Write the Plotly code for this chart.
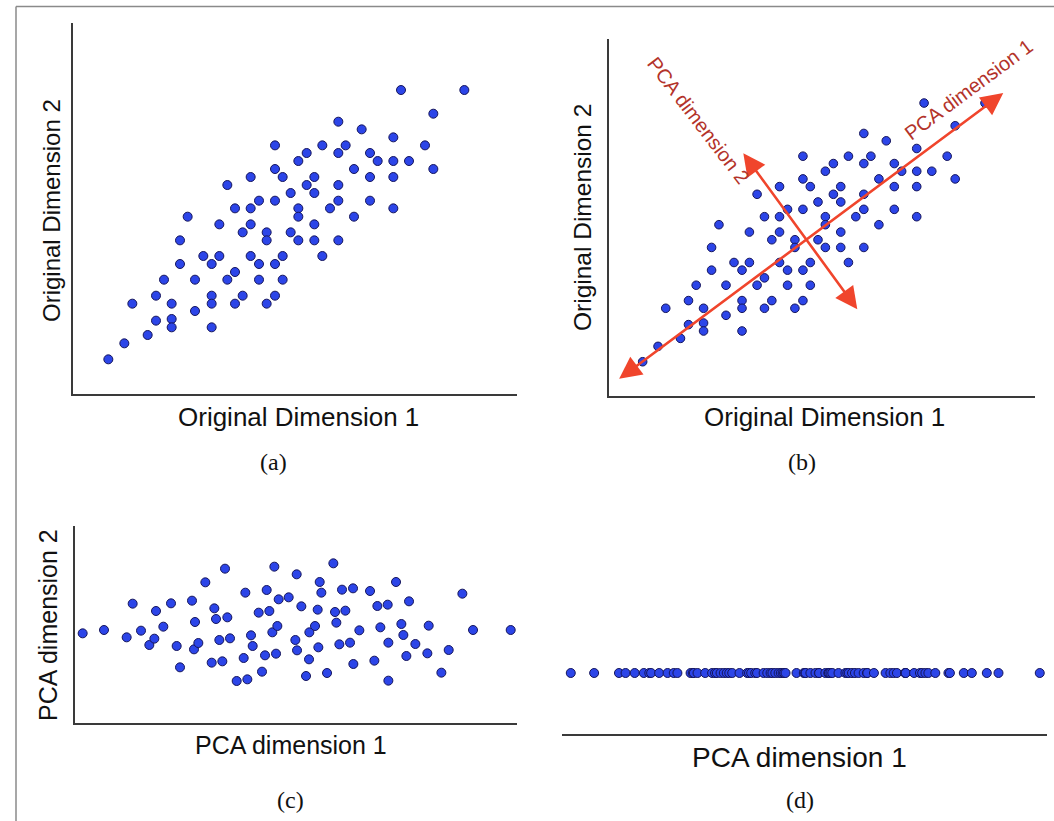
import plotly.graph_objects as go

W, H = 1054, 821

# ---- Data: original 2-D cloud (panels a and b) ----
orig_dim1 = [10.23, 12.13, 11.20, 8.35, 9.05, 10.00, 6.45, 7.87, 8.57, 10.95,
             7.40, 8.35, 9.30, 7.15, 9.53, 10.00, 10.47, 6.45, 8.82, 11.20,
             5.72, 6.68, 7.63, 9.30, 10.00, 5.02, 7.40, 8.35, 6.92, 7.63,
             5.97, 6.45, 8.35, 9.30, 5.25, 5.72, 7.15, 8.10, 10.00, 3.83,
             7.15, 8.82, 4.78, 5.72, 7.63, 5.48, 6.20, 6.92, 3.60, 6.20,
             7.15, 7.63, 8.35, 4.30, 4.78, 5.72, 6.68, 7.87, 3.60, 4.55,
             5.97, 6.45, 5.25, 3.12, 4.05, 5.02, 5.97, 6.68, 2.88, 4.55,
             5.48, 6.45, 2.17, 3.35, 4.55, 5.25, 6.20, 4.05, 2.88, 3.35,
             3.35, 4.55, 2.63, 1.93, 1.45]
orig_dim2 = [9.40, 9.40, 8.69, 8.45, 8.22, 7.98, 7.74, 7.74, 7.74, 7.74,
             7.51, 7.51, 7.51, 7.27, 7.27, 7.27, 7.27, 7.03, 7.03, 7.03,
             6.79, 6.79, 6.79, 6.79, 6.79, 6.55, 6.55, 6.55, 6.31, 6.31,
             6.08, 6.08, 6.08, 6.08, 5.85, 5.85, 5.85, 5.85, 5.85, 5.60,
             5.60, 5.60, 5.37, 5.37, 5.37, 5.13, 5.13, 5.13, 4.89, 4.89,
             4.89, 4.89, 4.89, 4.42, 4.42, 4.42, 4.42, 4.42, 4.18, 4.18,
             4.18, 4.18, 3.94, 3.71, 3.71, 3.71, 3.71, 3.71, 3.23, 3.23,
             3.23, 3.23, 2.99, 2.99, 2.99, 2.99, 2.99, 2.77, 2.48, 2.53,
             2.28, 2.28, 2.05, 1.80, 1.32]

# ---- Data: PCA-rotated cloud (panels c and d) ----
pca_dim1 = [0.68, 1.32, 2.00, 2.18, 2.43, 2.68, 2.83, 2.88, 3.10, 3.33,
            3.50, 3.60, 3.96, 4.02, 4.05, 4.15, 4.36, 4.55, 4.63, 4.68,
            4.78, 4.87, 4.95, 5.02, 5.10, 5.30, 5.51, 5.56, 5.62, 5.73,
            5.78, 5.96, 6.06, 6.15, 6.20, 6.28, 6.37, 6.43, 6.48, 6.52,
            6.56, 6.86, 7.06, 7.10, 7.11, 7.24, 7.38, 7.47, 7.48, 7.65,
            7.73, 7.75, 7.79, 7.84, 8.01, 8.20, 8.25, 8.29, 8.38, 8.46,
            8.56, 8.70, 8.79, 8.80, 8.98, 9.30, 9.43, 9.52, 9.61, 9.83,
            9.85, 9.85, 10.08, 10.24, 10.30, 10.39, 10.47, 10.66, 11.02, 11.06,
            11.44, 11.66, 12.07, 12.39, 13.52]
pca_dim2 = [3.20, 3.30, 3.08, 4.09, 3.28, 2.85, 3.04, 3.87, 3.40, 4.10,
            2.82, 2.18, 4.18, 2.72, 3.54, 2.91, 4.73, 2.32, 3.95, 3.63,
            3.00, 2.36, 5.14, 3.68, 3.05, 1.77, 2.46, 4.42, 1.82, 3.14,
            2.82, 3.82, 2.05, 2.54, 4.50, 3.87, 3.23, 5.20, 2.59, 3.42,
            4.22, 4.28, 3.00, 4.97, 2.69, 4.01, 1.92, 2.42, 3.23, 3.42,
            3.91, 2.78, 4.74, 4.42, 2.01, 5.30, 3.84, 3.52, 2.87, 4.51,
            3.88, 2.92, 4.55, 2.28, 3.29, 4.47, 2.38, 4.02, 3.38, 4.06,
            2.92, 1.78, 4.74, 3.48, 3.15, 2.52, 4.16, 2.88, 2.60, 3.43,
            2.02, 2.70, 4.39, 3.30, 3.30]
pca_projection = [0.0] * len(pca_dim1)

# PCA direction arrows in panel (b), original-dimension units
pc1_start, pc1_end = (0.67, 0.75), (12.70, 9.71)
pc2_start, pc2_end = (8.18, 2.91), (4.59, 7.83)

# ---- Styling ----
DOT = "#2c45e8"
DOT_EDGE = "#15155c"
AXIS = "#3a3a3a"
ARROW = "#f0452c"
ARROW_TEXT = "#b3332a"
SANS = "Liberation Sans, Arial, Helvetica, sans-serif"
SERIF = "Liberation Serif, Times New Roman, serif"


def fx(p):
    return p / W


def fy(p):
    return 1 - p / H


marker = dict(size=9, color=DOT, line=dict(color=DOT_EDGE, width=1))

fig = go.Figure()
fig.add_trace(go.Scatter(x=orig_dim1, y=orig_dim2, mode="markers", marker=marker,
                         xaxis="x", yaxis="y", hoverinfo="skip"))
fig.add_trace(go.Scatter(x=orig_dim1, y=orig_dim2, mode="markers",
                         marker=dict(marker, size=8.6),
                         xaxis="x2", yaxis="y2", hoverinfo="skip"))
fig.add_trace(go.Scatter(x=pca_dim1, y=pca_dim2, mode="markers", marker=marker,
                         xaxis="x3", yaxis="y3", hoverinfo="skip"))
fig.add_trace(go.Scatter(x=pca_dim1, y=pca_projection, mode="markers", marker=marker,
                         xaxis="x4", yaxis="y4", hoverinfo="skip"))

ax_common = dict(showline=True, linecolor=AXIS, linewidth=2, showticklabels=False,
                 showgrid=False, zeroline=False, ticks="", fixedrange=True)

fig.update_layout(
    width=W, height=H,
    margin=dict(l=0, r=0, t=0, b=0),
    paper_bgcolor="white", plot_bgcolor="rgba(0,0,0,0)",
    showlegend=False,
    xaxis=dict(ax_common, domain=[fx(73), fx(517)], range=[0.39, 13.71], anchor="y"),
    yaxis=dict(ax_common, domain=[fy(394), fy(22.7)], range=[0.28, 11.42], anchor="x"),
    xaxis2=dict(ax_common, domain=[fx(609), fx(1035)], range=[0.40, 13.69], anchor="y2"),
    yaxis2=dict(ax_common, domain=[fy(396), fy(39)], range=[0.25, 11.40], anchor="x2"),
    xaxis3=dict(ax_common, domain=[fx(75), fx(516.7)], range=[0.45, 13.70], anchor="y3"),
    yaxis3=dict(ax_common, domain=[fy(723), fy(526)], range=[0.51, 6.42], anchor="x3"),
    xaxis4=dict(ax_common, domain=[fx(562), fx(1046.7)], range=[0.44, 13.71], anchor="y4"),
    yaxis4=dict(ax_common, domain=[fy(734), fy(612)], range=[-1, 1], anchor="x4",
                visible=False),
)

# outer frame (top and left edges visible)
fig.add_shape(type="line", xref="paper", yref="paper", x0=fx(16), x1=1.0,
              y0=fy(6.5), y1=fy(6.5), line=dict(color="#8a8a8a", width=1.5))
fig.add_shape(type="line", xref="paper", yref="paper", x0=fx(16), x1=fx(16),
              y0=fy(6.5), y1=0.0, line=dict(color="#8a8a8a", width=1.5))

# PCA arrows (double-headed)
for (x0, y0), (x1, y1) in [(pc1_start, pc1_end), (pc2_start, pc2_end)]:
    fig.add_annotation(x=x1, y=y1, ax=x0, ay=y0, xref="x2", yref="y2",
                       axref="x2", ayref="y2", text="", showarrow=True,
                       arrowside="end+start", arrowhead=2, startarrowhead=2,
                       arrowsize=1.7, startarrowsize=1.7, arrowwidth=2.6,
                       arrowcolor=ARROW, standoff=0, startstandoff=0)

fig.add_annotation(x=11.60, y=9.81, xref="x2", yref="y2", text="PCA dimension 1",
                   showarrow=False, textangle=-36.6,
                   font=dict(family=SANS, size=20, color=ARROW_TEXT))
fig.add_annotation(x=3.18, y=8.87, xref="x2", yref="y2", text="PCA dimension 2",
                   showarrow=False, textangle=52.6,
                   font=dict(family=SANS, size=20, color=ARROW_TEXT))

# axis titles
labels = [
    ("Original Dimension 1", 298, 417, 0, 26),
    ("Original Dimension 2", 52, 211, -90, 24),
    ("Original Dimension 1", 824, 417, 0, 26),
    ("Original Dimension 2", 583, 218, -90, 24.5),
    ("PCA dimension 1", 291, 745, 0, 25),
    ("PCA dimension 2", 48, 625, -90, 25),
    ("PCA dimension 1", 799, 757, 0, 28),
]
for txt, x, y, ang, size in labels:
    fig.add_annotation(x=fx(x), y=fy(y), xref="paper", yref="paper", text=txt,
                       showarrow=False, textangle=ang, xanchor="center", yanchor="middle",
                       font=dict(family=SANS, size=size, color="#111111"))

for txt, x, y in [("(a)", 273, 462), ("(b)", 802, 462), ("(c)", 290, 800), ("(d)", 800, 800)]:
    fig.add_annotation(x=fx(x), y=fy(y), xref="paper", yref="paper", text=txt,
                       showarrow=False, xanchor="center", yanchor="middle",
                       font=dict(family=SERIF, size=24, color="#111111"))

fig.write_html("out.html", post_script="document.body.style.margin='0';",
               config={"displayModeBar": False})
